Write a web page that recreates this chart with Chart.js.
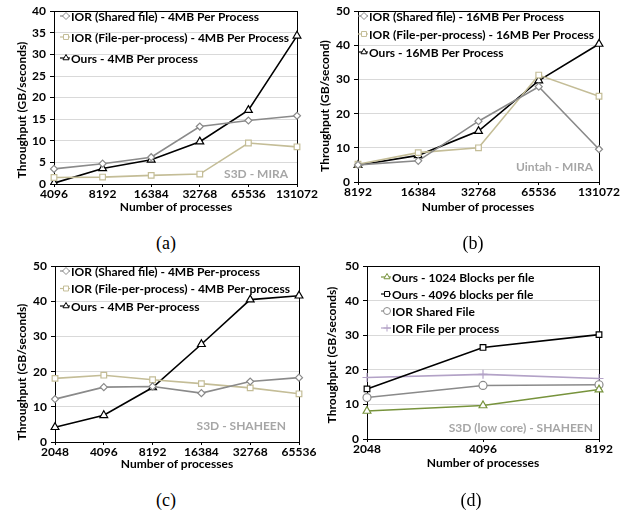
<!DOCTYPE html>
<html>
<head>
<meta charset="utf-8">
<script src="https://cdn.jsdelivr.net/npm/chart.js@4.4.1/dist/chart.umd.min.js"></script>
<style>
  body { margin: 0; background: #fff; }
  #page { position: relative; width: 635px; height: 519px; overflow: hidden; }
  canvas { position: absolute; }
  .txt { position: absolute; font: bold 12px Lato, sans-serif; color: #000; white-space: nowrap; transform: translate(-50%, -50%); }
  .ytitle { transform: translate(-50%, -50%) rotate(-90deg); }
  .cap { position: absolute; font: 18px "Liberation Serif", serif; transform: translate(-50%, -50%); }
</style>
</head>
<body>
<div id="page">
  <canvas id="chartA" width="320" height="230" style="left:0;top:0"></canvas>
  <canvas id="chartB" width="325" height="230" style="left:310px;top:0"></canvas>
  <canvas id="chartC" width="320" height="230" style="left:0;top:255px"></canvas>
  <canvas id="chartD" width="325" height="230" style="left:310px;top:255px"></canvas>

  <div class="txt ytitle" style="left:21px;top:110px">Throughput (GB/seconds)</div>
  <div class="txt ytitle" style="left:324px;top:106px">Throughput (GB/second)</div>
  <div class="txt ytitle" style="left:21px;top:372px">Throughput (GB/seconds)</div>
  <div class="txt ytitle" style="left:331px;top:355px">Throughput (GB/seconds)</div>

  <div class="txt" style="left:176px;top:206px">Number of processes</div>
  <div class="txt" style="left:478px;top:206px">Number of processes</div>
  <div class="txt" style="left:177px;top:463px">Number of processes</div>
  <div class="txt" style="left:483px;top:462px">Number of processes</div>

  <div class="cap" style="left:166px;top:243px">(a)</div>
  <div class="cap" style="left:473px;top:243px">(b)</div>
  <div class="cap" style="left:166px;top:500px">(c)</div>
  <div class="cap" style="left:471px;top:500px">(d)</div>
</div>
<script>
// (a) S3D - MIRA
const procsA = ['4096', '8192', '16384', '32768', '65536', '131072'];
const sharedA = [3.5, 4.7, 6.2, 13.3, 14.7, 15.8];
const fppA = [1.5, 1.6, 2.0, 2.3, 9.5, 8.6];
const oursA = [0.2, 3.6, 5.6, 9.8, 17.1, 34.3];

// (b) Uintah - MIRA
const procsB = ['8192', '16384', '32768', '65536', '131072'];
const sharedB = [5.0, 6.2, 17.8, 27.9, 9.6];
const fppB = [5.2, 8.6, 10.0, 31.3, 25.1];
const oursB = [4.9, 7.8, 14.9, 29.7, 40.4];

// (c) S3D - SHAHEEN
const procsC = ['2048', '4096', '8192', '16384', '32768', '65536'];
const sharedC = [12.2, 15.6, 15.8, 13.9, 17.2, 18.3];
const fppC = [18.1, 19.0, 17.7, 16.6, 15.4, 13.7];
const oursC = [4.2, 7.6, 15.5, 27.8, 40.5, 41.6];

// (d) S3D (low core) - SHAHEEN
const procsD = ['2048', '4096', '8192'];
const ours1024D = [8.1, 9.7, 14.3];
const ours4096D = [14.5, 26.5, 30.2];
const sharedD = [12.0, 15.5, 15.7];
const fppD = [17.8, 18.7, 17.5];

const GRAY = '#8a8a8a';
const TAN = '#c4bd97';
const BLACK = '#000000';
const OLIVE = '#77933c';
const LILAC = '#b3a2c7';
const FONT = 'Lato, sans-serif';

// legend drawn inside the plot, one row per dataset
const legendBox = {
  id: 'legendBox',
  afterDraw(chart, args, opts) {
    const ctx = chart.ctx;
    ctx.save();
    ctx.font = 'bold 12px ' + FONT;
    ctx.textBaseline = 'middle';
    ctx.textAlign = 'left';
    chart.data.datasets.forEach((ds, i) => {
      const x = opts.x, y = opts.y + i * opts.gap;
      ctx.strokeStyle = ds.borderColor;
      ctx.lineWidth = 1.2;
      ctx.beginPath();
      ctx.moveTo(x - 11, y);
      ctx.lineTo(x - 1, y);
      ctx.stroke();
      ctx.fillStyle = '#fff';
      ctx.lineWidth = 1;
      Chart.helpers.drawPoint(ctx, { pointStyle: ds.pointStyle, radius: 3.5, rotation: 0, borderWidth: 1 }, x - 5, y);
      ctx.fillStyle = '#000';
      ctx.fillText(ds.label, x, y + 1);
    });
    ctx.restore();
  }
};

// frame round the plot + grey case label
const frameNote = {
  id: 'frameNote',
  beforeDatasetsDraw(chart) {
    const a = chart.chartArea, ctx = chart.ctx;
    ctx.save();
    ctx.strokeStyle = '#000';
    ctx.lineWidth = 1;
    ctx.strokeRect(Math.round(a.left) + 0.5, Math.round(a.top) + 0.5, Math.round(a.right - a.left), Math.round(a.bottom - a.top));
    ctx.restore();
  },
  afterDraw(chart, args, opts) {
    const ctx = chart.ctx;
    ctx.save();
    ctx.font = 'bold 12px ' + FONT;
    ctx.fillStyle = '#a6a6a6';
    ctx.textAlign = 'right';
    ctx.textBaseline = 'middle';
    ctx.fillText(opts.text, opts.x, opts.y);
    ctx.restore();
  }
};

function series(label, data, color, style, radius) {
  return {
    label: label,
    data: data,
    borderColor: color,
    backgroundColor: '#fff',
    borderWidth: 1.6,
    pointStyle: style,
    pointRadius: radius,
    pointBorderWidth: 1.2,
    pointBackgroundColor: '#fff',
    pointBorderColor: color,
    tension: 0
  };
}

function makeChart(id, labels, datasets, cfg) {
  new Chart(document.getElementById(id), {
    type: 'line',
    data: { labels: labels, datasets: datasets },
    plugins: [frameNote, legendBox],
    options: {
      responsive: false,
      animation: false,
      layout: { padding: cfg.pad },
      plugins: {
        legend: { display: false },
        tooltip: { enabled: false },
        legendBox: cfg.legend,
        frameNote: cfg.note
      },
      scales: {
        x: {
          offset: false,
          grid: { drawOnChartArea: false, drawTicks: true, tickLength: 3, tickColor: '#000' },
          border: { color: '#000', width: 1 },
          ticks: { color: '#000', font: { family: FONT, size: 12, weight: 'bold' }, padding: 0, maxRotation: 0, autoSkip: false },
          afterFit: s => { s.height = cfg.xh; }
        },
        y: {
          min: 0,
          max: cfg.ymax,
          ticks: { stepSize: cfg.step, color: '#000', font: { family: FONT, size: 12, weight: 'bold' }, padding: 4 },
          grid: { color: '#d9d9d9', tickColor: '#000', tickLength: 4 },
          border: { color: '#000', width: 1 },
          afterFit: s => { s.width = cfg.yw; }
        }
      }
    }
  });
}

makeChart('chartA', procsA, [
  series('IOR (Shared file) - 4MB Per Process', sharedA, GRAY, 'rectRot', 3.5),
  series('IOR (File-per-process) - 4MB Per Process', fppA, TAN, 'rect', 4),
  series('Ours - 4MB Per process', oursA, BLACK, 'triangle', 4.5)
], { pad: { left: 0, top: 7, right: 23, bottom: 0 }, yw: 54, xh: 46, ymax: 40, step: 5,
     legend: { x: 71, y: 16, gap: 21 }, note: { text: 'S3D - MIRA', x: 288, y: 174 } });

makeChart('chartB', procsB, [
  series('IOR (Shared file) - 16MB Per Process', sharedB, GRAY, 'rectRot', 3.5),
  series('IOR (File-per-process) - 16MB Per Process', fppB, TAN, 'rect', 4),
  series('Ours - 16MB Per Process', oursB, BLACK, 'triangle', 4.5)
], { pad: { left: 0, top: 7, right: 36, bottom: 0 }, yw: 48, xh: 48, ymax: 50, step: 10,
     legend: { x: 59, y: 16, gap: 18 }, note: { text: 'Uintah - MIRA', x: 283, y: 167 } });

makeChart('chartC', procsC, [
  series('IOR (Shared file) - 4MB Per-process', sharedC, GRAY, 'rectRot', 3.5),
  series('IOR (File-per-process) - 4MB Per-process', fppC, TAN, 'rect', 4),
  series('Ours - 4MB Per-process', oursC, BLACK, 'triangle', 4.5)
], { pad: { left: 0, top: 10, right: 21, bottom: 0 }, yw: 55, xh: 43, ymax: 50, step: 10,
     legend: { x: 71, y: 16, gap: 17.5 }, note: { text: 'S3D - SHAHEEN', x: 286, y: 171 } });

makeChart('chartD', procsD, [
  series('Ours - 1024 Blocks per file', ours1024D, OLIVE, 'triangle', 4.5),
  series('Ours - 4096 blocks per file', ours4096D, BLACK, 'rect', 4),
  series('IOR Shared File', sharedD, GRAY, 'circle', 4),
  series('IOR File per process', fppD, LILAC, 'cross', 4.5)
], { pad: { left: 0, top: 11, right: 36, bottom: 0 }, yw: 57, xh: 46, ymax: 50, step: 10,
     legend: { x: 82, y: 22, gap: 17 }, note: { text: 'S3D (low core) - SHAHEEN', x: 283, y: 173 } });
</script>
</body>
</html>
